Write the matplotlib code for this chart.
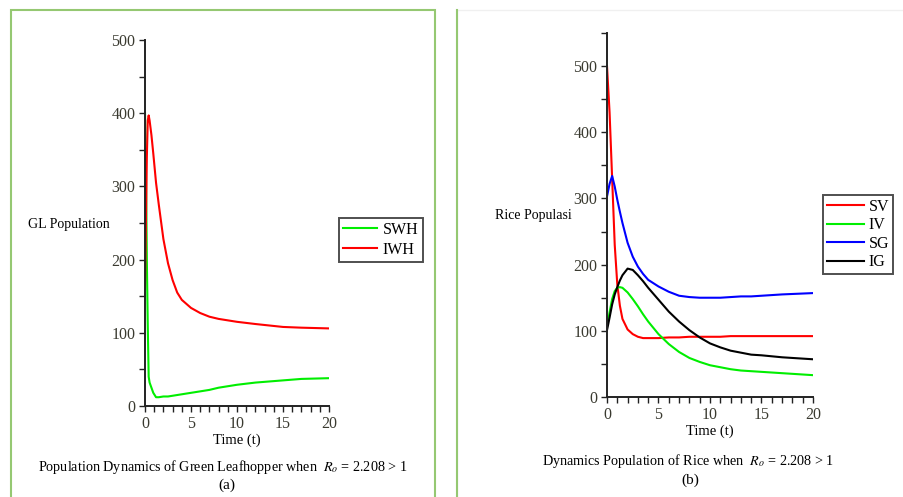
import numpy as np
import matplotlib
matplotlib.use("Agg")
import matplotlib.pyplot as plt
from matplotlib.patches import Rectangle
from matplotlib.ticker import MultipleLocator

plt.rcParams['font.family'] = ['Liberation Serif', 'DejaVu Serif']
plt.rcParams['mathtext.fontset'] = 'stix'

# --- panel (a): green leafhopper ---
t_gl = [0, 0.1, 0.2, 0.3, 0.4, 0.5, 0.7, 0.9, 1.2, 1.5, 2.0, 2.5, 3.0, 3.5, 4.0, 5.0,
        6.0, 7.0, 8.0, 10.0, 12.0, 15.0, 17.0, 20.0]
swh = [400, 330, 200, 110, 40, 32, 25, 18, 12, 12, 13, 13, 14, 15, 16, 18,
       20, 22, 25, 29, 32, 35, 37, 38]
t_iwh = [0, 0.1, 0.2, 0.3, 0.4, 0.5, 0.7, 0.9, 1.2, 1.5, 2.0, 2.5, 3.0, 3.5, 4.0, 5.0,
         6.0, 7.0, 8.0, 10.0, 12.0, 15.0, 17.0, 20.0]
iwh = [160, 250, 340, 390, 397, 390, 370, 345, 305, 275, 228, 195, 172, 155, 145, 134,
       127, 122, 119, 115, 112, 108, 107, 106]

# --- panel (b): rice ---
t_rice = [0, 0.25, 0.5, 0.75, 1.0, 1.25, 1.5, 2.0, 2.5, 3.0, 3.5, 4.0, 5.0, 6.0,
          7.0, 8.0, 9.0, 10.0, 11.0, 12.0, 13.0, 14.0, 15.0, 17.0, 20.0]
sv = [500, 430, 330, 230, 170, 138, 118, 102, 95, 91, 89, 89, 89, 90,
      90, 91, 91, 91, 91, 92, 92, 92, 92, 92, 92]
iv = [106, 128, 148, 160, 165, 166, 165, 158, 148, 137, 125, 114, 95, 80,
      68, 59, 53, 48, 45, 42, 40, 39, 38, 36, 33]
sg = [303, 322, 334, 318, 298, 280, 263, 233, 212, 197, 186, 177, 167, 159,
      153, 151, 150, 150, 150, 151, 152, 152, 153, 155, 157]
ig = [101, 120, 140, 155, 166, 176, 184, 194, 192, 184, 175, 165, 147, 129,
      114, 101, 90, 81, 75, 70, 67, 64, 63, 60, 57]

W, H = 904, 497
fig = plt.figure(figsize=(W / 100, H / 100), dpi=100)


def px_axes(x0, y0, x1, y1):
    return fig.add_axes([x0 / W, 1 - y1 / H, (x1 - x0) / W, (y1 - y0) / H])


def style_axes(ax, ymax, ytop):
    ax.set_xlim(0, 20)
    ax.set_ylim(0, ytop)
    for s in ['top', 'right']:
        ax.spines[s].set_visible(False)
    for s in ['left', 'bottom']:
        ax.spines[s].set_linewidth(1.4)
        ax.spines[s].set_color('#222222')
    ax.xaxis.set_major_locator(MultipleLocator(5))
    ax.xaxis.set_minor_locator(MultipleLocator(1))
    ax.yaxis.set_major_locator(MultipleLocator(100))
    ax.yaxis.set_minor_locator(MultipleLocator(50))
    ax.set_yticks([v for v in range(0, ymax + 1, 100)])
    ax.tick_params(which='both', direction='out', color='#222222', width=1,
                   labelsize=11.5, labelcolor='#3a3a30', pad=3)
    ax.tick_params(which='major', length=4)
    ax.tick_params(which='minor', length=4)
    ax.set_facecolor('none')


def style_legend(leg):
    leg.get_frame().set_edgecolor('#222222')
    leg.get_frame().set_linewidth(1.4)


# panel borders
fig.patches.append(Rectangle((11 / W, -0.1), (435 - 11) / W, 1 - 9.5 / H + 0.1,
                             transform=fig.transFigure, fill=False,
                             edgecolor='#95c872', linewidth=1.5))
fig.patches.append(Rectangle((457 / W, -0.1), 0.6, 1 - 9.5 / H + 0.1,
                             transform=fig.transFigure, fill=False,
                             edgecolor='#f0f0f0', linewidth=1))
fig.lines.append(plt.Line2D([457 / W, 457 / W], [0, 1 - 9.5 / H],
                            transform=fig.transFigure, color='#95c872', linewidth=1.5))

# left
ax1 = px_axes(145, 40, 329, 406)
ax1.plot(t_gl, swh, color='#00ee00', linewidth=1.5, label='SWH')
ax1.plot(t_iwh, iwh, color='#ff0000', linewidth=1.5, label='IWH')
style_axes(ax1, 500, 500)
ax1.set_xlabel('Time (t)', fontsize=10.5, labelpad=1)
fig.text(28 / W, 1 - 224 / H, 'GL Population', fontsize=10, ha='left', va='center')
leg1 = ax1.legend(loc='upper left', bbox_to_anchor=((339 - 145) / 184, (406 - 218) / 366),
                  frameon=True, fancybox=False, fontsize=11.5, handlelength=2.1,
                  handletextpad=0.4, borderpad=0.25, labelspacing=0.25, borderaxespad=0)
style_legend(leg1)
fig.text(223 / W, 1 - 467 / H,
         r'Population Dynamics of Green Leafhopper when  $R_o$ = 2.208 > 1',
         fontsize=10.2, ha='center', va='center')
fig.text(227 / W, 1 - 485 / H, '(a)', fontsize=11, ha='center', va='center')

# right
ax2 = px_axes(607, 33, 813, 397)
ax2.plot(t_rice, sv, color='#ff0000', linewidth=1.5, label='SV')
ax2.plot(t_rice, iv, color='#00ee00', linewidth=1.5, label='IV')
ax2.plot(t_rice, sg, color='#0000ff', linewidth=1.5, label='SG')
ax2.plot(t_rice, ig, color='#000000', linewidth=1.5, label='IG')
style_axes(ax2, 500, 550)
ax2.set_xlabel('Time (t)', fontsize=10.5, labelpad=1)
fig.text(495 / W, 1 - 215 / H, 'Rice Populasi', fontsize=10, ha='left', va='center')
leg2 = ax2.legend(loc='upper left', bbox_to_anchor=((823 - 607) / 206, (397 - 195) / 364),
                  frameon=True, fancybox=False, fontsize=11.5, handlelength=2.3,
                  handletextpad=0.3, borderpad=0.25, labelspacing=0.15, borderaxespad=0)
style_legend(leg2)
fig.text(688 / W, 1 - 461 / H,
         r'Dynamics Population of Rice when  $R_o$ = 2.208 > 1',
         fontsize=10.2, ha='center', va='center')
fig.text(690 / W, 1 - 480 / H, '(b)', fontsize=11, ha='center', va='center')

fig.savefig('out.png', dpi=100)
